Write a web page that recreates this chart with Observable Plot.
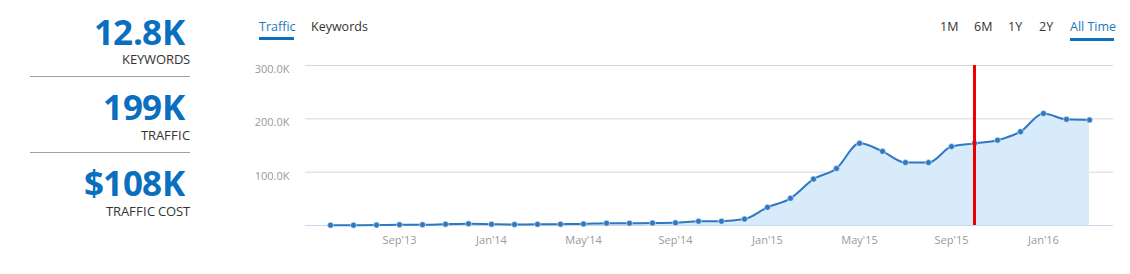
<!DOCTYPE html>
<html>
<head>
<meta charset="utf-8">
<script src="https://cdn.jsdelivr.net/npm/d3@7"></script>
<script src="https://cdn.jsdelivr.net/npm/@observablehq/plot@0.6"></script>
<style>
  @font-face { font-family: "KPI"; font-weight: 700; src: local("Open Sans Bold"), local("OpenSans-Bold"), local("Open Sans"); ascent-override: 90%; descent-override: 10%; line-gap-override: 0%; }
  @font-face { font-family: "KPI"; font-weight: 400; src: local("Open Sans Regular"), local("OpenSans-Regular"), local("Open Sans"); ascent-override: 90%; descent-override: 10%; line-gap-override: 0%; }
  html, body { margin: 0; padding: 0; background: #fff; }
  #wrap { position: relative; width: 1130px; height: 274px; font-family: "Open Sans", sans-serif; overflow: hidden; }
  #wrap svg { position: absolute; left: 0; top: 0; }
  .abs { position: absolute; white-space: nowrap; line-height: 1; }
  .num { left: 0; width: 184px; text-align: right; font-family: "KPI", "Open Sans", sans-serif; font-size: 35px; font-weight: 700; color: #0a6fbf; letter-spacing: -0.5px; }
  .lbl { left: 0; width: 190px; text-align: right; font-family: "KPI", "Open Sans", sans-serif; font-size: 12.5px; color: #333; }
  .sep { position: absolute; left: 30px; width: 160px; height: 0; border-top: 1px solid #a0a0a0; }
  .tab { font-size: 12.5px; color: #333; }
  .tab.on { color: #1b78c0; }
  .ul { position: absolute; height: 3px; background: #0a70bf; }
</style>
</head>
<body>
<div id="wrap"></div>
<script>
// ---- data ----
const months = ["Jun'13","Jul'13","Aug'13","Sep'13","Oct'13","Nov'13","Dec'13",
  "Jan'14","Feb'14","Mar'14","Apr'14","May'14","Jun'14","Jul'14","Aug'14","Sep'14","Oct'14","Nov'14","Dec'14",
  "Jan'15","Feb'15","Mar'15","Apr'15","May'15","Jun'15","Jul'15","Aug'15","Sep'15","Oct'15","Nov'15","Dec'15",
  "Jan'16","Feb'16","Mar'16"];
const traffic = [600, 600, 800, 1500, 1500, 2500, 3200,
  2500, 2000, 2200, 2500, 3000, 4400, 4400, 4600, 5000, 8000, 8000, 12000,
  34000, 51000, 87000, 107000, 154000, 139000, 118000, 118000, 148000, 154000, 160000, 176000,
  210000, 199000, 198000];
const xTickLabels = ["Sep'13","Jan'14","May'14","Sep'14","Jan'15","May'15","Sep'15","Jan'16"];
const yTickValues = [100000, 200000, 300000];
const markerMonth = "Oct'15";
const kpiValues = ["12.8K", "199K", "$108K"];
const kpiLabels = ["KEYWORDS", "TRAFFIC", "TRAFFIC COST"];
const leftTabs = ["Traffic", "Keywords"];
const rightTabs = ["1M", "6M", "1Y", "2Y", "All Time"];

const data = months.map((m, i) => ({month: m, value: traffic[i]}));

const wrap = document.getElementById("wrap");

const chart = Plot.plot({
  width: 1130,
  height: 274,
  marginLeft: 305,
  marginRight: 17,
  marginTop: 65,
  marginBottom: 49,
  style: {fontFamily: "'Open Sans', sans-serif", fontSize: "11px", background: "transparent", overflow: "visible"},
  x: {type: "point", domain: months, padding: 0.94, label: null},
  y: {domain: [0, 300000], label: null},
  marks: [
    Plot.gridY(yTickValues, {stroke: "#d6d6d6", strokeOpacity: 1}),
    Plot.areaY(data, {x: "month", y: "value", curve: "monotone-x", fill: "#d8ebfa"}),
    Plot.ruleY([0], {stroke: "#ccd6eb"}),
    Plot.lineY(data, {x: "month", y: "value", curve: "monotone-x", stroke: "#2f79c2", strokeWidth: 2}),
    Plot.dot(data, {x: "month", y: "value", r: 3, fill: "#2f79c2", stroke: "#e8f1fa", strokeWidth: 0.6}),
    Plot.ruleX([markerMonth], {stroke: "#ee0000", strokeWidth: 3}),
    Plot.axisY({ticks: yTickValues, tickFormat: d => (d / 1000).toFixed(1) + "K", tickSize: 0, tickPadding: 16, dy: 4, fill: "#9a9a9a", fontSize: 11}),
    Plot.axisX({ticks: xTickLabels, tickSize: 0, tickPadding: 11, fill: "#9a9a9a", fontSize: 11})
  ]
});
wrap.appendChild(chart);

function add(cls, text, styles) {
  const d = document.createElement("div");
  d.className = cls;
  d.textContent = text;
  Object.assign(d.style, styles);
  wrap.appendChild(d);
  return d;
}

// KPI panel (baseline offset = 0.9em with the metric overrides above)
const numBase = [45.7, 120.7, 196.5];
const lblBase = [64, 140, 216];
kpiValues.forEach((v, i) => add("abs num", v, {top: (numBase[i] - 0.9 * 35) + "px"}));
kpiLabels.forEach((v, i) => add("abs lbl", v, {top: (lblBase[i] - 0.9 * 12.5) + "px"}));
[76, 152].forEach(y => { const s = document.createElement("div"); s.className = "sep"; s.style.top = y + "px"; wrap.appendChild(s); });

// tabs
const leftX = [259, 311];
leftTabs.forEach((t, i) => add("abs tab" + (i === 0 ? " on" : ""), t, {left: leftX[i] + "px", top: "20.5px"}));
const rightX = [940, 974, 1008, 1039, 1070];
rightTabs.forEach((t, i) => add("abs tab" + (i === rightTabs.length - 1 ? " on" : ""), t, {left: rightX[i] + "px", top: "20.5px"}));
[[259, 35, 37], [1070, 44, 38]].forEach(([x, w, y]) => {
  const u = document.createElement("div"); u.className = "ul";
  Object.assign(u.style, {left: x + "px", width: w + "px", top: y + "px"});
  wrap.appendChild(u);
});
</script>
</body>
</html>
